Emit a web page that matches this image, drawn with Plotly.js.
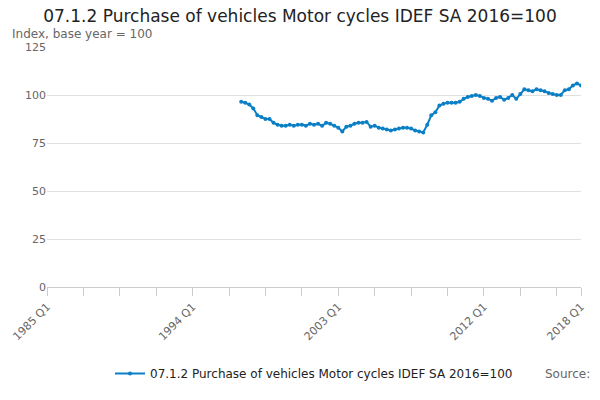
<!DOCTYPE html><html><head><script src="https://cdn.plot.ly/plotly-3.0.0.min.js"></script></head><body style="margin:0"><div id="c" style="width:600px;height:400px"></div><script>
const startYear = 1997;
const values = [96.5,96,95,93, 89.5,88.5,87.5,87.5, 85.5,84.5,84,84, 84.5,84,84.5,84.5, 84,85,84.5,85, 84,85.5,85,84,
83,81,83.5,84, 85,85.5,85.5,86, 83.5,84,83,82.5, 82,81.5,82,82.5, 83,83,82.5,81.5, 81,80.5,84.5,89.5,
91,94.5,95.5,96, 96,96,96.5,98, 99,99.5,100,99.5, 98.5,98,97,98.5, 99,97.5,98.5,100, 98,100.5,103,102.5,
102,103,102.5,102, 101,100.5,100,100, 102.5,103,105,106, 105];
const tickLabels = ['1985 Q1','1994 Q1','2003 Q1','2012 Q1','2018 Q1'];
const tickIdx = tickLabels.map(t => (parseInt(t) - 1985) * 4);
const x = values.map((v,i) => (startYear - 1985) * 4 + i);
const text = values.map((v,i) => (startYear + Math.floor(i/4)) + ' Q' + (i%4+1));
Plotly.newPlot('c', [{x, y: values, text, type:'scatter', mode:'lines+markers', name:'07.1.2 Purchase of vehicles Motor cycles IDEF SA 2016=100',
 line:{color:'#0b7fc6', width:2}, marker:{color:'#0b7fc6', size:4}}], {
 width:600, height:400, margin:{l:47, r:19, t:47, b:103}, showlegend:true,
 font:{family:'DejaVu Sans', color:'#444'},
 title:{text:'07.1.2 Purchase of vehicles Motor cycles IDEF SA 2016=100', x:0.5, y:0.975, font:{size:17, color:'#222'}},
 xaxis:{range:[0,132], tickvals:tickIdx, ticktext:tickLabels, tickangle:-45, ticks:'outside', ticklen:8, tickcolor:'#ccc',
  showgrid:false, showline:true, linecolor:'#ccc', zeroline:false, tickfont:{size:11, color:'#666'},
  minor:{dtick:9, tick0:0, ticks:'outside', ticklen:8, tickcolor:'#ccc'}},
 yaxis:{range:[0,125], dtick:25, gridcolor:'#e0e0e0', zeroline:false, ticks:'', tickfont:{size:11, color:'#666'}},
 legend:{orientation:'h', x:0.5, xanchor:'center', y:-0.3, font:{size:12, color:'#222'}},
 annotations:[
  {text:'Index, base year = 100', xref:'paper', yref:'paper', x:-0.07, y:1.09, xanchor:'left', showarrow:false, font:{size:12, color:'#666'}},
  {text:'Source:', xref:'paper', yref:'paper', x:1.02, y:-0.4, xanchor:'right', showarrow:false, font:{size:12, color:'#666'}}]
}, {displayModeBar:false});
</script></body></html>
